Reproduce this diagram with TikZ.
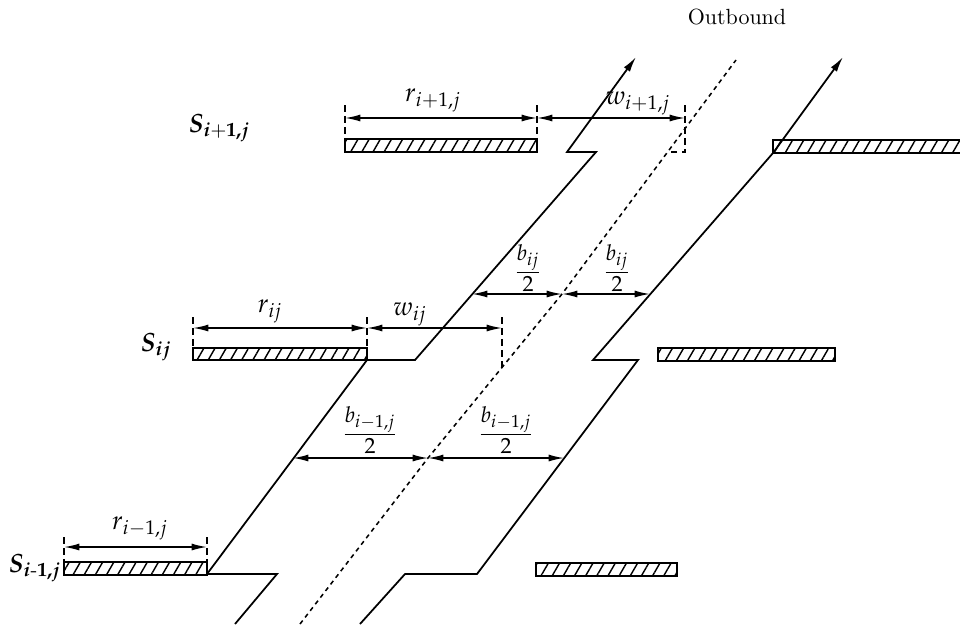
\documentclass[tikz,border=0pt]{standalone}
\usepackage{mathpazo}
\usepackage{amsmath}
\usepackage{bm}
\usepackage{tikz}
\usetikzlibrary{arrows.meta,patterns.meta,positioning,calc}
\tikzstyle{edge} = [draw, line width=0.8pt, -{Latex[length=7pt,width=3.4pt]}]
\tikzstyle{dim} = [draw, line width=0.7pt, {Latex[length=7pt,width=3.2pt]}-{Latex[length=7pt,width=3.2pt]}]
\tikzstyle{guide} = [draw, line width=0.7pt, dash pattern=on 3pt off 2pt]
\tikzstyle{centre} = [draw, line width=0.7pt, dash pattern=on 2pt off 1.8pt]
\tikzstyle{bar} = [draw, line width=0.8pt, pattern={Lines[angle=60,distance=4.4pt,line width=0.65pt]}]
\tikzstyle{lab} = [inner sep=1pt, font=\large]
\tikzstyle{row} = [inner sep=1pt, anchor=west, font=\large]

\begin{document}
\begin{tikzpicture}[x=0.016cm, y=-0.016cm]
    \useasboundingbox (0,0) rectangle (960,624);

    % band edges and centre line
    \coordinate (la0) at (235,624);
    \coordinate (la1) at (277,574);
    \coordinate (la2) at (207,574);
    \coordinate (la3) at (367,360);
    \coordinate (la4) at (415,360);
    \coordinate (la5) at (596,152);
    \coordinate (la6) at (567,152);
    \coordinate (la7) at (636,57);
    \coordinate (ra0) at (360,624);
    \coordinate (ra1) at (405,574);
    \coordinate (ra2) at (477,574);
    \coordinate (ra3) at (638,360);
    \coordinate (ra4) at (593,360);
    \coordinate (ra5) at (773,153);
    \coordinate (ra6) at (843,57);
    \coordinate (ca0) at (300,624);
    \coordinate (ca1) at (428,458);
    \coordinate (ca2) at (502,367);
    \coordinate (ca3) at (562,294);
    \coordinate (ca4) at (668,152);
    \coordinate (ca5) at (736,60);

    \path [edge] (la0) -- (la1) -- (la2) -- (la3) -- (la4) -- (la5) -- (la6) -- (la7);
    \path [edge] (ra0) -- (ra1) -- (ra2) -- (ra3) -- (ra4) -- (ra5) -- (ra6);
    \path [centre] (ca0) -- (ca1) -- (ca3) -- (ca5);

    % row i+1,j
    \coordinate (r1a) at (345,118);
    \coordinate (r1b) at (537,118);
    \coordinate (w1b) at (685,118);
    \path [bar] (345,139) rectangle (537,152);
    \path [bar] (773,140) rectangle (966,153);
    \path [guide] (345,105) -- (345,139);
    \path [guide] (537,105) -- (537,152);
    \path [guide] (685,105) -- (685,152) -- (ca4);
    \path [dim] (r1a) -- (r1b);
    \path [dim] (r1b) -- (w1b);
    \node [lab] (r1) at (433,100) {$r_{i+1,j}$};
    \node [lab] (w1) at (638,103) {$w_{i+1,j}$};
    \node [row] (s1) at (186,128) {$\bm{S_{i\text{+}1,j}}$};

    % row ij
    \coordinate (r2a) at (193,328);
    \coordinate (r2b) at (367,328);
    \coordinate (w2b) at (502,328);
    \path [bar] (193,348) rectangle (367,360);
    \path [bar] (658,348) rectangle (835,361);
    \path [guide] (193,317) -- (193,348);
    \path [guide] (367,317) -- (367,360);
    \path [guide] (502,317) -- (ca2);
    \path [dim] (r2a) -- (r2b);
    \path [dim] (r2b) -- (w2b);
    \node [lab] (r2) at (270,311) {$r_{ij}$};
    \node [lab] (w2) at (410,314) {$w_{ij}$};
    \node [row] (s2) at (138,347) {$\bm{S_{ij}}$};

    \coordinate (b2l) at (472,294);
    \coordinate (b2r) at (650,294);
    \path [dim] (b2l) -- (ca3);
    \path [dim] (ca3) -- (b2r);
    \node [lab, font=\Large] (f2l) at (528,268) {$\frac{b_{ij}}{2}$};
    \node [lab, font=\Large] (f2r) at (617,268) {$\frac{b_{ij}}{2}$};

    % row i-1,j
    \coordinate (b3l) at (293,458);
    \coordinate (b3r) at (564,458);
    \path [dim] (b3l) -- (ca1);
    \path [dim] (ca1) -- (b3r);
    \node [lab, font=\Large] (f3l) at (370,430) {$\frac{b_{i-1,j}}{2}$};
    \node [lab, font=\Large] (f3r) at (506,430) {$\frac{b_{i-1,j}}{2}$};

    \coordinate (r3a) at (64,547);
    \coordinate (r3b) at (207,547);
    \path [bar] (64,562) rectangle (207,575);
    \path [bar] (536,563) rectangle (677,576);
    \path [guide] (64,537) -- (64,562);
    \path [guide] (207,537) -- (207,574);
    \path [dim] (r3a) -- (r3b);
    \node [lab] (r3) at (140,528) {$r_{i-1,j}$};
    \node [row] (s3) at (6,568) {$\bm{S_{i\text{-}1,j}}$};

    \node [inner sep=1pt] (out) at (737,17) {Outbound};
\end{tikzpicture}
\end{document}
